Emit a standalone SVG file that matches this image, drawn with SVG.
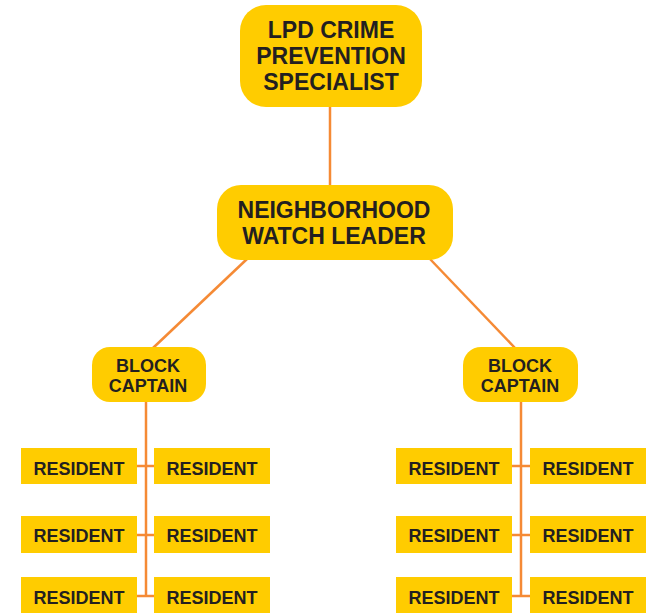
<svg xmlns="http://www.w3.org/2000/svg" width="646" height="613" viewBox="0 0 646 613">
<style>
.box{fill:#FFCC00}
.t{font-family:"Liberation Sans",Arial,sans-serif;font-weight:bold;fill:#231F20;text-anchor:middle}
.big{font-size:23px}
.mid{font-size:18px}
.res{font-size:18px}
.ln{stroke:#F58A35;stroke-width:2.5;fill:none}
</style>
<rect width="646" height="613" fill="#fff"/>
<g id="connectors">
<line class="ln" x1="330" y1="106" x2="330" y2="186"/>
<line class="ln" x1="247" y1="259" x2="153" y2="348"/>
<line class="ln" x1="430" y1="259" x2="515" y2="348"/>
<polyline class="ln" points="146,401 146,596"/>
<line class="ln" x1="136" y1="466" x2="155" y2="466"/>
<line class="ln" x1="136" y1="535" x2="155" y2="535"/>
<line class="ln" x1="136" y1="596" x2="155" y2="596"/>
<polyline class="ln" points="521,401 521,596"/>
<line class="ln" x1="511" y1="466" x2="531" y2="466"/>
<line class="ln" x1="511" y1="535" x2="531" y2="535"/>
<line class="ln" x1="511" y1="596" x2="531" y2="596"/>
</g>
<g id="lpd">
<rect class="box" x="240" y="5" width="182" height="102" rx="26"/>
<text class="t big" x="331" y="38">LPD CRIME</text>
<text class="t big" x="331" y="64">PREVENTION</text>
<text class="t big" x="331" y="90">SPECIALIST</text>
</g>
<g id="leader">
<rect class="box" x="217" y="185" width="236" height="75" rx="24"/>
<text class="t big" x="334" y="218">NEIGHBORHOOD</text>
<text class="t big" x="334" y="244">WATCH LEADER</text>
</g>
<g id="captain-left">
<rect class="box" x="92" y="347" width="114" height="55" rx="18"/>
<text class="t mid" x="148" y="372">BLOCK</text>
<text class="t mid" x="148" y="392">CAPTAIN</text>
</g>
<g id="captain-right">
<rect class="box" x="463" y="347" width="115" height="55" rx="18"/>
<text class="t mid" x="520" y="372">BLOCK</text>
<text class="t mid" x="520" y="392">CAPTAIN</text>
</g>
<g id="r-l1a"><rect class="box" x="21" y="448" width="116" height="36"/><text class="t res" x="79" y="475">RESIDENT</text></g>
<g id="r-l1b"><rect class="box" x="154" y="448" width="116" height="36"/><text class="t res" x="212" y="475">RESIDENT</text></g>
<g id="r-l2a"><rect class="box" x="21" y="516" width="116" height="37"/><text class="t res" x="79" y="542">RESIDENT</text></g>
<g id="r-l2b"><rect class="box" x="154" y="516" width="116" height="37"/><text class="t res" x="212" y="542">RESIDENT</text></g>
<g id="r-l3a"><rect class="box" x="21" y="577" width="116" height="36"/><text class="t res" x="79" y="604">RESIDENT</text></g>
<g id="r-l3b"><rect class="box" x="154" y="577" width="116" height="36"/><text class="t res" x="212" y="604">RESIDENT</text></g>
<g id="r-r1a"><rect class="box" x="396" y="448" width="116" height="36"/><text class="t res" x="454" y="475">RESIDENT</text></g>
<g id="r-r1b"><rect class="box" x="530" y="448" width="116" height="36"/><text class="t res" x="588" y="475">RESIDENT</text></g>
<g id="r-r2a"><rect class="box" x="396" y="516" width="116" height="37"/><text class="t res" x="454" y="542">RESIDENT</text></g>
<g id="r-r2b"><rect class="box" x="530" y="516" width="116" height="37"/><text class="t res" x="588" y="542">RESIDENT</text></g>
<g id="r-r3a"><rect class="box" x="396" y="577" width="116" height="36"/><text class="t res" x="454" y="604">RESIDENT</text></g>
<g id="r-r3b"><rect class="box" x="530" y="577" width="116" height="36"/><text class="t res" x="588" y="604">RESIDENT</text></g>
</svg>
